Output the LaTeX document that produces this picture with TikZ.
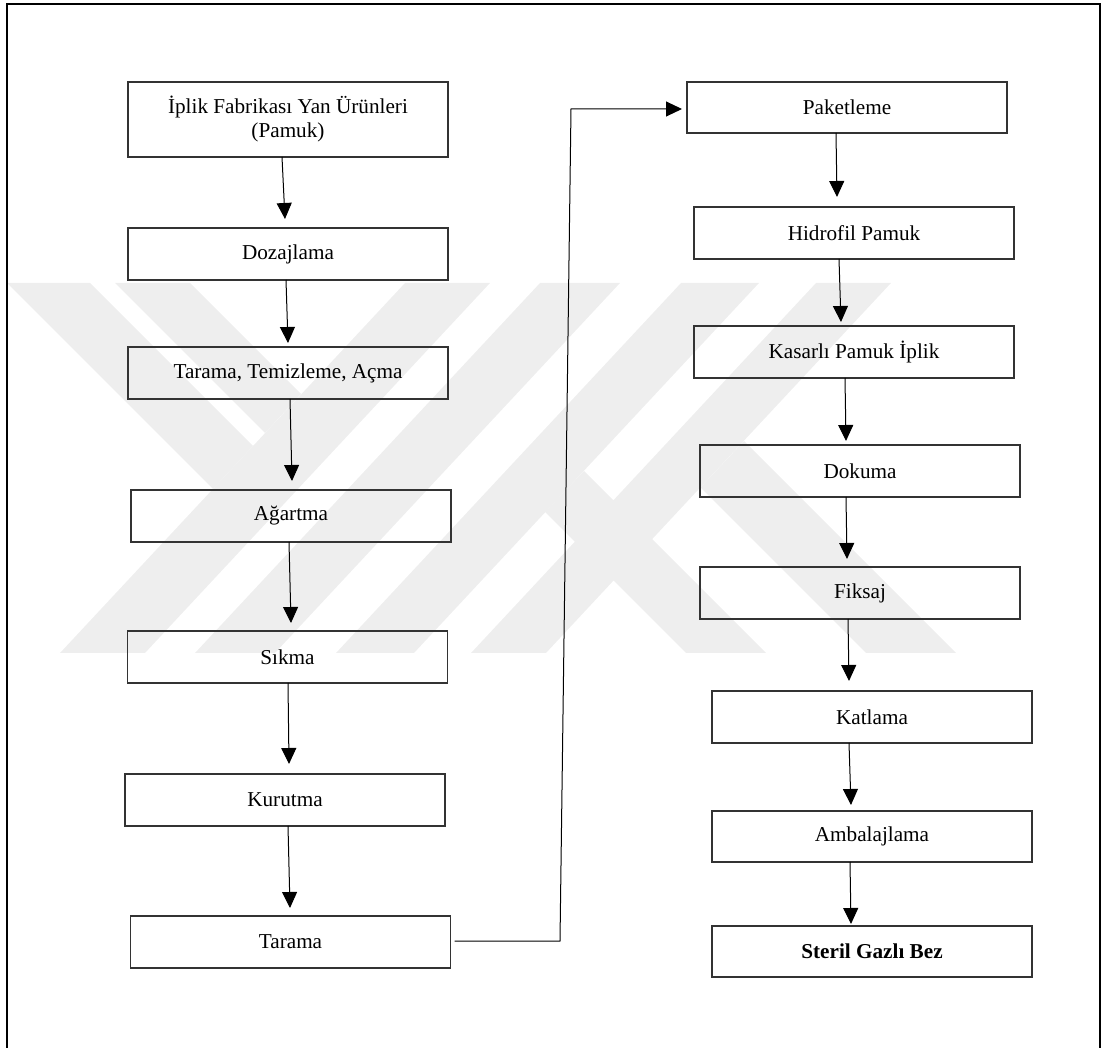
\documentclass[tikz,border=0pt]{standalone}
\usepackage{fontspec}
\setmainfont{Liberation Serif}
\usetikzlibrary{arrows.meta}
\definecolor{markgray}{RGB}{238,238,238}
\tikzset{
  stage/.style={draw=black!80, line width=0.7pt, rectangle,
    minimum width=160pt, minimum height=26pt, inner sep=0pt, outer sep=0pt,
    align=center, font=\fontsize{10.6}{12}\selectfont},
  flow/.style={line width=0.5pt, -{Triangle[length=8pt,width=7.5pt]}},
  band/.style={fill=markgray, draw=none}
}
\begin{document}
\begin{tikzpicture}[x=0.5pt,y=-0.5pt]
\useasboundingbox (0,0) rectangle (1105,1048);

% light background emblem
\fill[band] (60,653) -- (145,653) -- (490,283) -- (405,283) -- cycle;
\fill[band] (195,653) -- (275,653) -- (620,283) -- (540,283) -- cycle;
\fill[band] (7,283) -- (90,283) -- (253,446) -- (213,489) -- cycle;
\fill[band] (115,283) -- (190,283) -- (301,394) -- (265,433) -- cycle;
\fill[band] (681,283) -- (759,283) -- (414,653) -- (336,653) -- cycle;
\fill[band] (816,283) -- (891,283) -- (546,653) -- (471,653) -- cycle;
\fill[band] (700.5,487.5) -- (744,441) -- (956,653) -- (866,653) -- cycle;
\fill[band] (545,512) -- (584,471) -- (766,653) -- (686,653) -- cycle;

% frame
\draw[line width=1pt] (7,4) rectangle (1100,1060);

% left column
\node[stage, minimum height=37.5pt] (n1) at (288,119.5) {İplik Fabrikası Yan Ürünleri\\(Pamuk)};
\node[stage] (n2) at (288,254) {Dozajlama};
\node[stage] (n3) at (288,373) {Tarama, Temizleme, Açma};
\node[stage] (n4) at (291,516) {Ağartma};
\node[stage] (n5) at (287.5,657) {Sıkma};
\node[stage] (n6) at (285,800) {Kurutma};
\node[stage] (n7) at (290.5,942) {Tarama};

% right column
\node[stage, minimum height=25.5pt] (n8) at (847,107.5) {Paketleme};
\node[stage] (n9) at (854,233) {Hidrofil Pamuk};
\node[stage] (n10) at (854,352) {Kasarlı Pamuk İplik};
\node[stage] (n11) at (860,471) {Dokuma};
\node[stage] (n12) at (860,593) {Fiksaj};
\node[stage] (n13) at (872,717) {Katlama};
\node[stage, minimum height=25.5pt] (n14) at (872,836.5) {Ambalajlama};
\node[stage, minimum height=25.5pt] (n15) at (872,951.5) {\textbf{Steril Gazlı Bez}};

% connectors, left column
\draw[flow] ([xshift=-3pt]n1.south) -- ([xshift=-1.5pt,yshift=4.5pt]n2.north);
\draw[flow] ([xshift=-1pt]n2.south) -- ([yshift=2pt]n3.north);
\draw[flow] ([xshift=1pt]n3.south) -- ([xshift=0.5pt,yshift=4.5pt]n4.north);
\draw[flow] ([xshift=-1pt]n4.south) -- ([xshift=1.75pt,yshift=4pt]n5.north);
\draw[flow] ([xshift=0.25pt]n5.south) -- ([xshift=2pt,yshift=5pt]n6.north);
\draw[flow] ([xshift=1.5pt]n6.south) -- ([xshift=-0.25pt,yshift=4pt]n7.north);

% link between the columns
\coordinate (k1) at (560,941);
\coordinate (k2) at (571,109);
\draw[flow] ([xshift=2pt,yshift=0.5pt]n7.east) -- (k1) -- (k2) -- ([xshift=-2.5pt]n8.west |- k2);

% connectors, right column
\draw[flow] ([xshift=-5.5pt]n8.south) -- ([xshift=-8.5pt,yshift=5pt]n9.north);
\draw[flow] ([xshift=-7.5pt]n9.south) -- ([xshift=-6.5pt,yshift=2pt]n10.north);
\draw[flow] ([xshift=-4.5pt]n10.south) -- ([xshift=-7pt,yshift=2pt]n11.north);
\draw[flow] ([xshift=-7pt]n11.south) -- ([xshift=-6.5pt,yshift=4pt]n12.north);
\draw[flow] ([xshift=-6pt]n12.south) -- ([xshift=-11.5pt,yshift=5pt]n13.north);
\draw[flow] ([xshift=-11.5pt]n13.south) -- ([xshift=-10.5pt,yshift=3pt]n14.north);
\draw[flow] ([xshift=-11pt]n14.south) -- ([xshift=-10.5pt,yshift=1pt]n15.north);
\end{tikzpicture}
\end{document}
